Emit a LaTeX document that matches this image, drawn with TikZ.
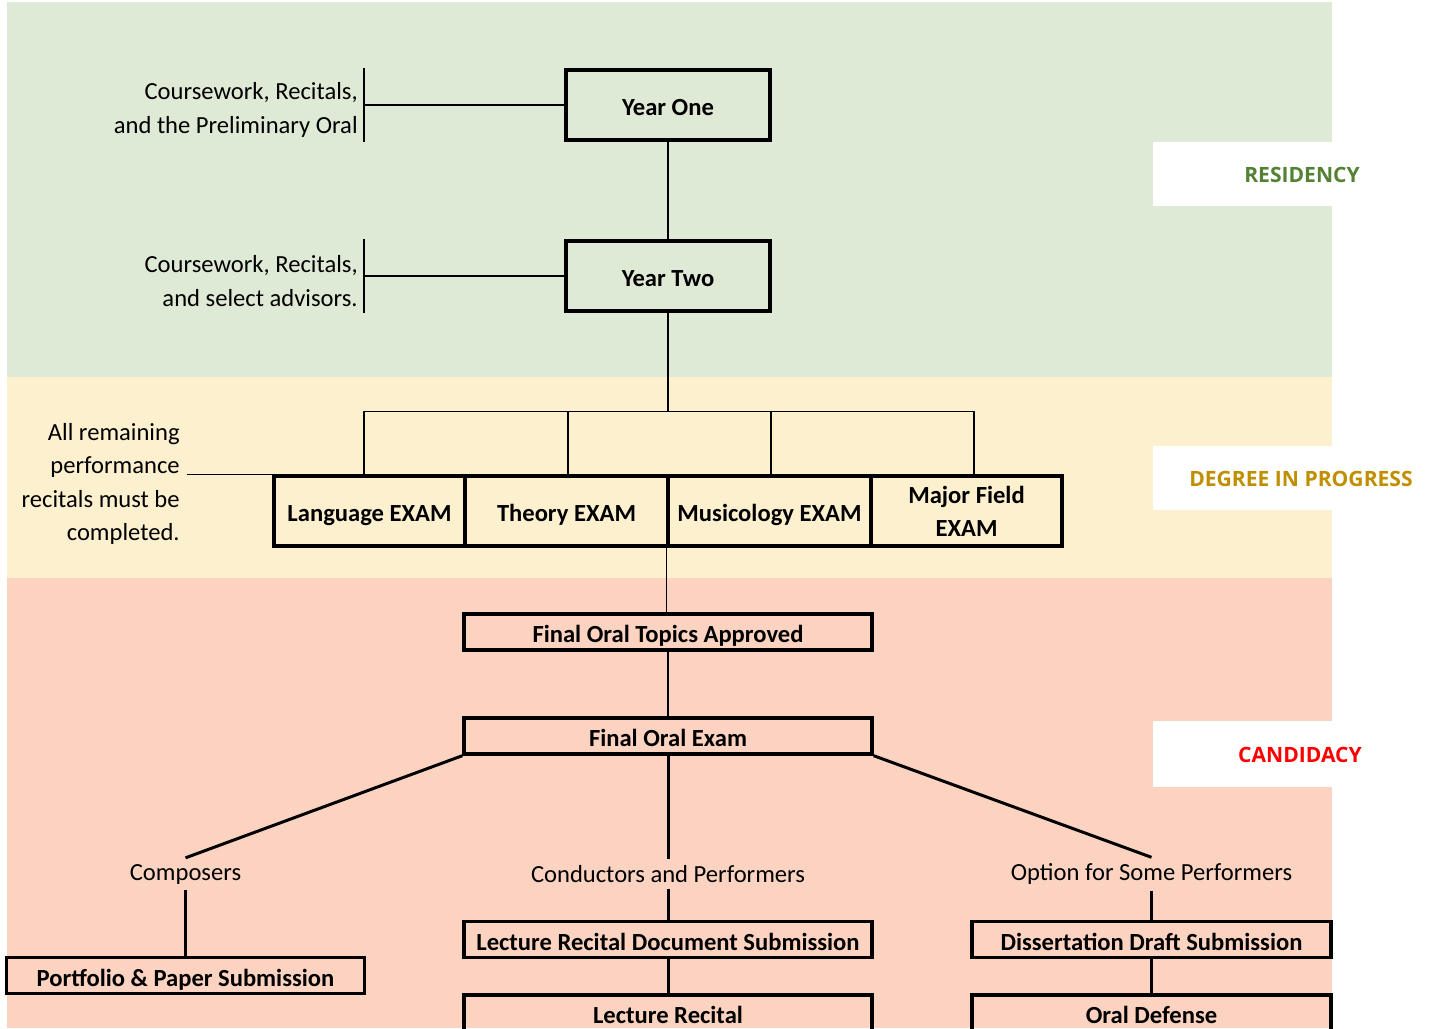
\documentclass[tikz,border=0pt]{standalone}
\usepackage{fontspec}
\setmainfont{Carlito}
\newfontfamily\phasefont{Open Sans}
\usepackage{xcolor}
\definecolor{residencybg}{RGB}{223,234,214}
\definecolor{progressbg}{RGB}{253,240,207}
\definecolor{candidacybg}{RGB}{251,211,192}
\definecolor{residencyfg}{RGB}{84,130,53}
\definecolor{progressfg}{RGB}{191,143,0}
\definecolor{candidacyfg}{RGB}{255,0,0}
\usepackage{tikz}
\usetikzlibrary{calc}
\newcommand{\widthyear}{4.08cm}
\newcommand{\widthexam}{4.06cm}
\newcommand{\widthexamend}{3.82cm}
\newcommand{\widthstage}{8.16cm}
\newcommand{\widthside}{7.16cm}
\tikzset{
    common/.style={draw, rectangle, line width=1.9pt, inner sep=2pt, align=center,
        font=\bfseries\fontsize{14}{18.7}\selectfont},
    boxtext/.style={text height=13pt, text depth=1pt},
    year/.style={common, boxtext, minimum width=\widthyear, minimum height=1.4cm},
    exam/.style={common, boxtext, minimum width=\widthexam, minimum height=1.4cm},
    examend/.style={exam, minimum width=\widthexamend},
    stage/.style={common, boxtext, minimum width=\widthstage, minimum height=0.72cm},
    sidestage/.style={stage, minimum width=\widthside},
    note/.style={align=right, inner xsep=0pt, font=\fontsize{14}{19}\selectfont},
    track/.style={font=\fontsize{14}{17}\selectfont},
    phase/.style={font=\phasefont\bfseries\fontsize{12}{14}\selectfont},
    link/.style={line width=0.8pt},
    branch/.style={line width=1.7pt}
}

\begin{document}
\begin{tikzpicture}[x=0.02cm, y=-0.02cm]
    \clip (0,0) rectangle (1439,1028);

    % phase bands
    \fill[residencybg] (7,2) rectangle (1332,377);
    \fill[progressbg] (7,377) rectangle (1332,578);
    \fill[candidacybg] (7,578) rectangle (1332,1028);
    \fill[white] (1153,142) rectangle (1332,206);
    \fill[white] (1153,446) rectangle (1332,510);
    \fill[white] (1153,721) rectangle (1332,787);
    \node[phase, text=residencyfg] (residency) at (1302,175) {RESIDENCY};
    \node[phase, text=progressfg] (progress) at (1301,479) {DEGREE IN PROGRESS};
    \node[phase, text=candidacyfg] (candidacy) at (1300,755) {CANDIDACY};

    % residency
    \node[year] (yearone) at (668,105) {Year One};
    \node[year] (yeartwo) at (668,276) {Year Two};
    \node[note, anchor=east] (noteone) at (358,110)
        {Coursework, Recitals,\\and the Preliminary Oral};
    \node[note, anchor=east] (notetwo) at (358,281)
        {Coursework, Recitals,\\and select advisors.};
    \coordinate (barone) at (364,106);
    \coordinate (bartwo) at (364,277);

    \draw[link] (barone |- yearone.north) -- (barone |- yearone.south);
    \draw[link] (bartwo |- yeartwo.north) -- (bartwo |- yeartwo.south);
    \draw[link] (yearone.west) -- (yearone.west -| barone);
    \draw[link] (yeartwo.west) -- (yeartwo.west -| bartwo);
    \draw[link] (yearone) -- (yeartwo);

    % exams
    \coordinate (fork) at ($(yeartwo.south)+(0,99)$);
    \node[examend] (language) at (369.5,511) {Language EXAM};
    \node[exam] (theory) at (566.5,511) {Theory EXAM};
    \node[exam] (musicology) at (769.5,511) {Musicology EXAM};
    \node[common, minimum width=\widthexamend, minimum height=1.4cm] (major) at (966.5,511) {Major Field\\EXAM};
    \node[note, anchor=east] (examnote) at (180,484)
        {All remaining\\performance\\recitals must be\\completed.};
    \coordinate (notetip) at ($(examnote.east)+(7,0)$);
    \coordinate (droplanguage) at ($(language.north)+(-5.5,0)$);
    \coordinate (droptheory) at ($(theory.north)+(1.5,0)$);
    \coordinate (dropmusicology) at ($(musicology.north)+(1.5,0)$);
    \coordinate (dropmajor) at ($(major.north)+(7.5,0)$);

    \draw[link] (yeartwo.south) -- (fork);
    \draw[link] (droplanguage) |- (fork) -| (dropmajor);
    \draw[link] (droptheory) -- (droptheory |- fork);
    \draw[link] (dropmusicology) -- (dropmusicology |- fork);
    \draw[link] (language.north west) -- (language.north west -| notetip);

    % candidacy
    \node[stage] (topics) at (668,632) {Final Oral Topics Approved};
    \node[stage] (finaloral) at (668,736) {Final Oral Exam};
    \draw[link] (musicology.south west) -- (musicology.south west |- topics.north);
    \draw[link] (topics) -- (finaloral);

    \node[track] (composers) at (185.5,874) {Composers};
    \node[track] (performers) at (668,874) {Conductors and Performers};
    \node[track] (option) at (1151.5,874) {Option for Some Performers};
    \draw[branch] (finaloral.south west) -- (composers.north);
    \draw[branch] (finaloral.south) -- (performers.north);
    \draw[branch] (finaloral.south east) -- (option.north);

    \node[sidestage] (portfolio) at (185.5,975.5) {Portfolio \& Paper Submission};
    \node[stage] (lecturedoc) at (668,939.5) {Lecture Recital Document Submission};
    \node[stage] (lecture) at (668,1013) {Lecture Recital};
    \node[sidestage, minimum width=7.18cm] (draft) at (1151.5,939.5) {Dissertation Draft Submission};
    \node[sidestage, minimum width=7.18cm] (defense) at (1151.5,1013) {Oral Defense};

    \draw[branch] (composers) -- (portfolio);
    \draw[branch] (performers) -- (lecturedoc);
    \draw[branch] (option) -- (draft);
    \draw[branch] (lecturedoc) -- (lecture);
    \draw[branch] (draft) -- (defense);
\end{tikzpicture}
\end{document}
